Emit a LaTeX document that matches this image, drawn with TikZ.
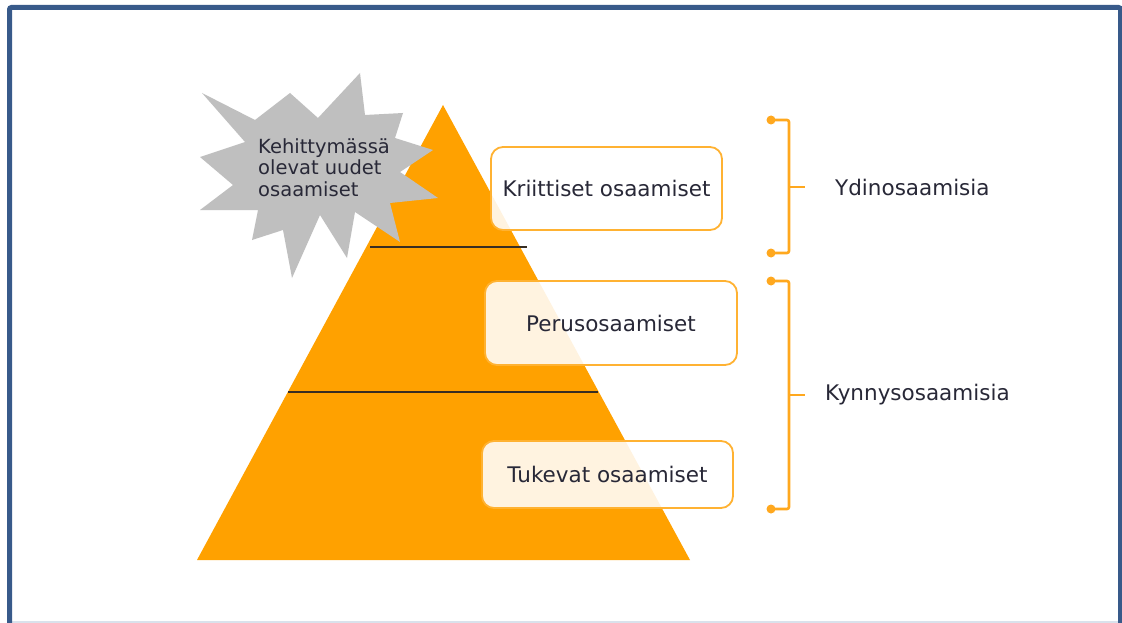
\documentclass[tikz,border=0pt]{standalone}
\usepackage{fontspec}
\setmainfont{DejaVu Sans}
\definecolor{pyr}{RGB}{255,161,0}
\definecolor{brc}{RGB}{255,168,30}
\definecolor{boxc}{RGB}{255,178,50}
\definecolor{starc}{RGB}{191,191,191}
\definecolor{framec}{RGB}{56,90,138}
\definecolor{framelight}{RGB}{218,226,236}
\definecolor{txtc}{RGB}{40,40,55}
\definecolor{linec}{RGB}{55,45,35}
\begin{document}
\begin{tikzpicture}[x=1pt,y=-1pt,
  txt/.style={text=txtc, font=\fontsize{21.5}{25}\selectfont, inner sep=0pt},
  box/.style={draw=boxc, line width=1.8pt, rounded corners=12pt, fill=white, fill opacity=0.88, text opacity=1, text=txtc, font=\fontsize{21.5}{25}\selectfont},
  brk/.style={draw=brc, line width=2.6pt},
  brkdot/.style={circle, fill=brc, inner sep=0pt, minimum size=9pt},
  sep/.style={draw=linec, line width=2.2pt}
]
\useasboundingbox (0,0) rectangle (1122,623);
\fill[white] (0,0) rectangle (1122,623);
% frame
\draw[framelight, line width=2pt] (12,622) -- (1118,622);
\draw[framec, line width=5pt, rounded corners=2pt] (9.5,623) -- (9.5,7.5) -- (1120.5,7.5) -- (1120.5,623);
% pyramid
\fill[pyr] (443,105) -- (690,560) -- (197,560) -- cycle;
\coordinate (s1a) at (370,247); \coordinate (s1b) at (527,247);
\coordinate (s2a) at (288,392); \coordinate (s2b) at (598,392);
\draw[sep] (s1a) -- (s1b);
\draw[sep] (s2a) -- (s2b);
% star
\fill[starc] (202,93) -- (255,120) -- (290,93) -- (318,118) -- (360,73) -- (365,115)
  -- (403,113) -- (395,138) -- (433,150) -- (400,172) -- (438,198) -- (390,203)
  -- (400,242) -- (355,212) -- (347,258) -- (320,215) -- (292,278) -- (283,230)
  -- (252,240) -- (258,210) -- (200,210) -- (233,185) -- (200,157) -- (245,142) -- cycle;
\node[anchor=north west, align=left, inner sep=0pt, text=txtc, font=\fontsize{19.5}{21.5}\selectfont] (star) at (258,138) {Kehittymässä\\olevat uudet\\osaamiset};
% boxes
\node[box, minimum width=231pt, minimum height=83pt] (kri) at (606.5,188.5) {Kriittiset osaamiset};
\node[box, minimum width=252pt, minimum height=84pt] (per) at (611,323) {Perusosaamiset};
\node[box, minimum width=251pt, minimum height=67pt] (tuk) at (607.5,474.5) {Tukevat osaamiset};
% labels
\node[txt, anchor=west] (yd) at (835,187) {Ydinosaamisia};
\node[txt, anchor=west] (ky) at (825,395) {Kynnysosaamisia};
% brackets
\coordinate (b1t) at (771,120); \coordinate (b1b) at (771,253);
\coordinate (b2t) at (771,281); \coordinate (b2b) at (771,509);
\draw[brk, rounded corners=2pt] (b1t) -- (789,120) -- (789,253) -- (b1b);
\draw[brk, rounded corners=2pt] (b2t) -- (789,281) -- (789,509) -- (b2b);
\draw[brk] (789,187) -- ([xshift=-30pt]yd.west);
\draw[brk] (789,395) -- ([xshift=-20pt]ky.west);
\node[brkdot] at (b1t) {};
\node[brkdot] at (b1b) {};
\node[brkdot] at (b2t) {};
\node[brkdot] at (b2b) {};
\end{tikzpicture}
\end{document}
